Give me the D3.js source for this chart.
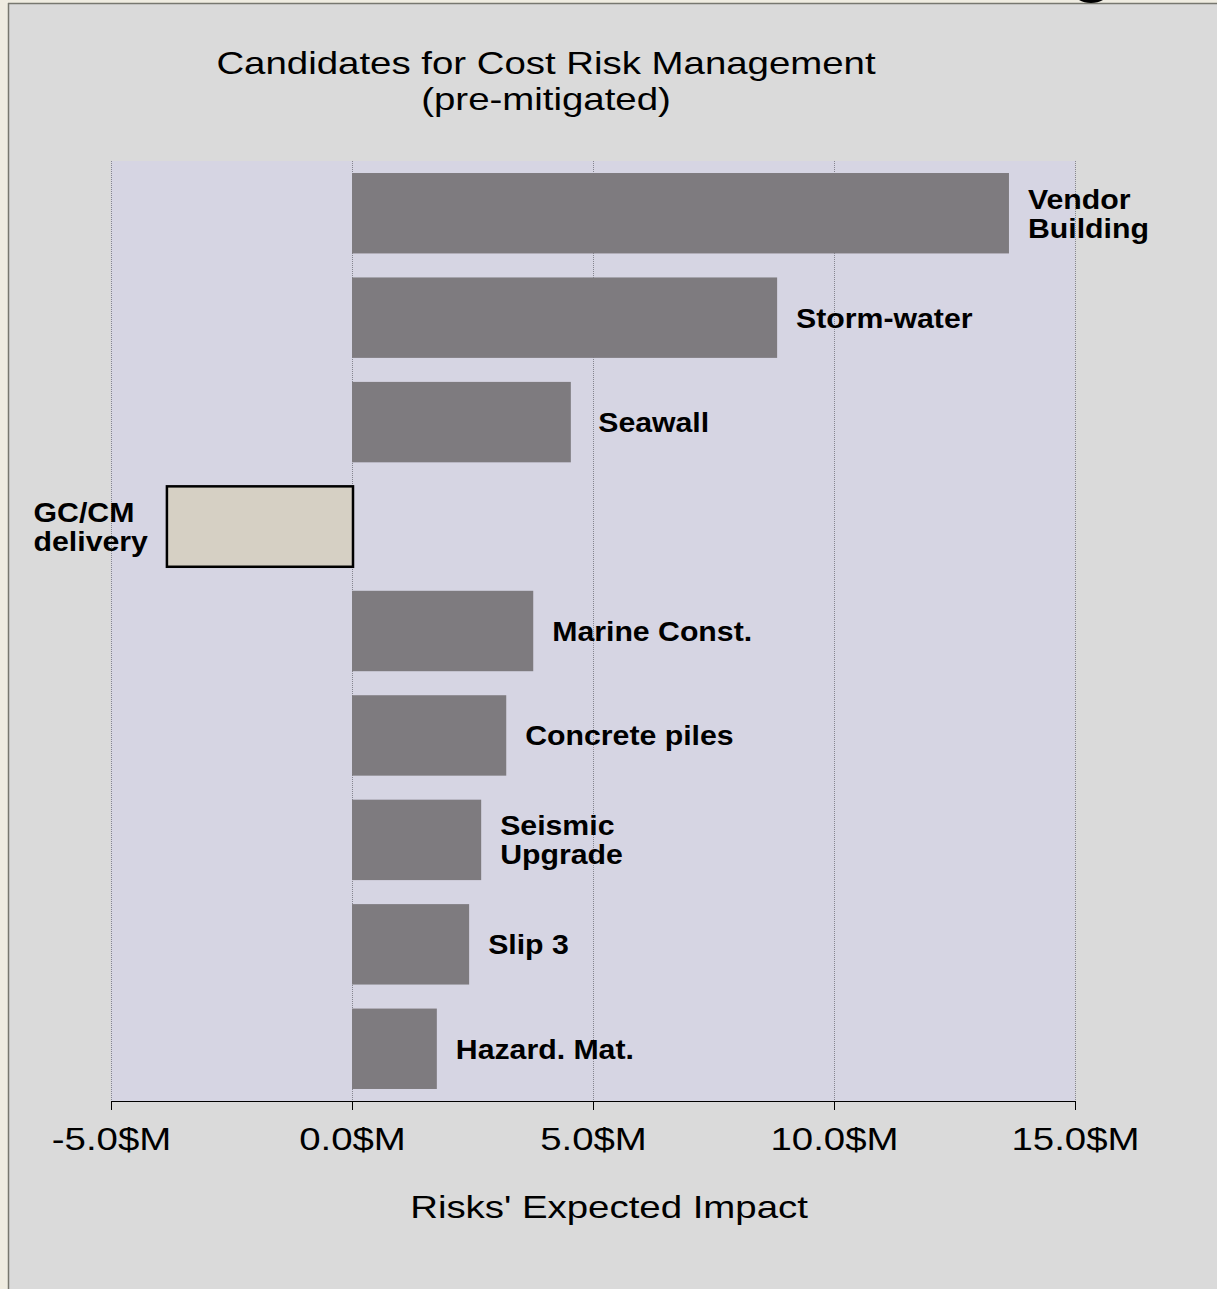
<!DOCTYPE html>
<html>
<head>
<meta charset="utf-8">
<script src="https://cdn.jsdelivr.net/npm/d3@7"></script>
<style>
  html, body { margin: 0; padding: 0; background: #efece1; }
  svg { display: block; }
  text { font-family: "Liberation Sans", Arial, sans-serif; fill: #000; white-space: pre; }
</style>
</head>
<body>
<svg id="chart" width="1217" height="1289"></svg>
<script>
// Risk candidates, in display order (top to bottom)
const categories = ["Vendor Building", "Storm-water", "Seawall", "GC/CM delivery",
  "Marine Const.", "Concrete piles", "Seismic Upgrade", "Slip 3", "Hazard. Mat."];
// Label lines shown next to each bar
const labelLines = [["Vendor", "Building"], ["Storm-water"], [" Seawall"], ["GC/CM", "delivery"],
  ["Marine Const."], ["Concrete piles"], ["Seismic", "Upgrade"], ["Slip 3"], ["Hazard. Mat."]];
// Expected impact in $M
const impacts = [13.63, 8.82, 4.54, -3.84, 3.76, 3.20, 2.68, 2.43, 1.76];
const tickValues = [-5, 0, 5, 10, 15];
const tickLabels = ["-5.0$M", "0.0$M", "5.0$M", "10.0$M", "15.0$M"];
const titleLines = ["Candidates for Cost Risk Management", "(pre-mitigated)"];
const axisTitle = "Risks' Expected Impact";

// Text in this chart is set slightly wide
const wideRegular = 1.2, wideBold = 1.1;

const svg = d3.select("#chart");

// Gray panel with a thin border on its left and top edges
svg.append("rect").attr("x", 8).attr("y", 3).attr("width", 1209).attr("height", 1286).attr("fill", "#dadada");
svg.append("line").attr("x1", 8.5).attr("x2", 8.5).attr("y1", 3).attr("y2", 1289).attr("stroke", "#77776f").attr("stroke-width", 1.5);
svg.append("line").attr("x1", 8).attr("x2", 1217).attr("y1", 3.5).attr("y2", 3.5).attr("stroke", "#77776f").attr("stroke-width", 1.5);
// Small dark handle peeking in at the top edge
svg.append("ellipse").attr("cx", 1091).attr("cy", -7).attr("rx", 17).attr("ry", 10).attr("fill", "#000");

const x = d3.scaleLinear().domain([-5, 15]).range([111, 1075]);
const y = d3.scaleBand().domain(categories).range([161, 1101]).paddingInner(0.23).paddingOuter(0.115);

// Plot area
svg.append("rect").attr("x", x(-5)).attr("y", 161)
  .attr("width", x(15) - x(-5)).attr("height", 1101 - 161).attr("fill", "#d6d5e3");

// Dotted vertical gridlines
svg.append("g").selectAll("line").data(tickValues).join("line")
  .attr("x1", d => x(d) + 0.5).attr("x2", d => x(d) + 0.5)
  .attr("y1", 161).attr("y2", 1101)
  .attr("stroke", "#85858f").attr("stroke-width", 1).attr("stroke-dasharray", "1,1");

// Bars
const data = categories.map((c, i) => ({ c, v: impacts[i], lines: labelLines[i] }));
svg.append("g").selectAll("rect").data(data).join("rect")
  .attr("x", d => x(Math.min(0, d.v)))
  .attr("y", d => y(d.c))
  .attr("width", d => Math.abs(x(d.v) - x(0)) + (d.v < 0 ? 1 : 0))
  .attr("height", y.bandwidth())
  .attr("fill", d => d.v < 0 ? "#d6d0c4" : "#7e7b7f")
  .attr("stroke", d => d.v < 0 ? "#000" : "none")
  .attr("stroke-width", 2.5);

// Bar labels
const labelSize = 27.5, labelGap = 19, lineGap = 29;
const lg = svg.append("g").attr("font-weight", "bold").attr("font-size", labelSize);
data.forEach(d => {
  const cy = y(d.c) + y.bandwidth() / 2;
  const n = d.lines.length;
  const t = lg.append("text");
  d.lines.forEach((ln, j) => {
    t.append("tspan").attr("x", 0)
      .attr("y", (j - (n - 1) / 2) * lineGap + labelSize * 0.36)
      .text(ln);
  });
  let tx;
  if (d.v >= 0) {
    tx = x(d.v) + labelGap;
  } else {
    const w = d3.max(t.selectAll("tspan").nodes(), s => s.getComputedTextLength()) * wideBold;
    tx = x(d.v) - labelGap - w;
  }
  t.attr("transform", `translate(${tx},${cy}) scale(${wideBold},1)`);
});

// Bottom axis
const axis = d3.axisBottom(x).tickValues(tickValues).tickFormat((d, i) => tickLabels[i]).tickSizeInner(9).tickSizeOuter(0);
const ag = svg.append("g").attr("transform", "translate(0,1101)").call(axis);
ag.select(".domain").attr("stroke", "#000");
ag.selectAll(".tick line").attr("stroke", "#000");
ag.selectAll(".tick text").attr("font-family", "Liberation Sans, Arial, sans-serif")
  .attr("font-size", 32).attr("fill", "#000")
  .attr("y", 0).attr("dy", 0)
  .attr("transform", `translate(0,49) scale(${wideRegular},1)`);

// Titles
svg.append("g").attr("font-size", 32).attr("text-anchor", "middle")
  .selectAll("text").data(titleLines).join("text")
  .attr("transform", (d, i) => `translate(546,${74 + i * 36}) scale(${wideRegular},1)`)
  .text(d => d);

svg.append("text").attr("font-size", 32).attr("text-anchor", "middle")
  .attr("transform", `translate(609,1218) scale(${wideRegular},1)`)
  .text(axisTitle);
</script>
</body>
</html>
